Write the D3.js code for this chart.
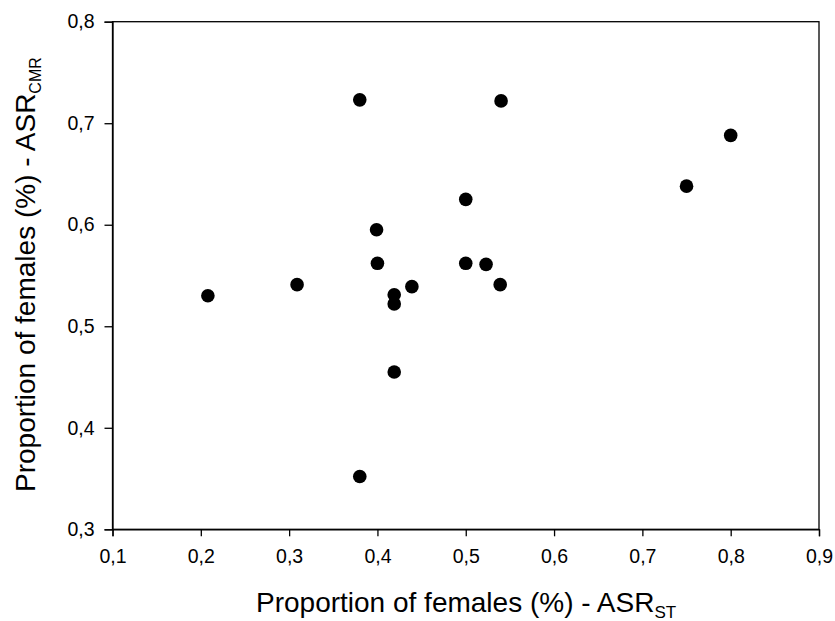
<!DOCTYPE html>
<html>
<head>
<meta charset="utf-8">
<script src="https://cdn.jsdelivr.net/npm/d3@7"></script>
<style>
  html, body { margin: 0; padding: 0; background: #fff; }
  svg { display: block; font-family: "Liberation Sans", Arial, sans-serif; }
</style>
</head>
<body>
<svg id="chart" width="835" height="621"></svg>
<script>
// Proportion of females estimated by two methods (ASR_ST vs ASR_CMR)
const asrST  = [0.208, 0.309, 0.38, 0.38, 0.399, 0.40, 0.419, 0.419, 0.419, 0.439, 0.50, 0.50, 0.523, 0.539, 0.54, 0.75, 0.80];
const asrCMR = [0.530, 0.541, 0.723, 0.352, 0.595, 0.562, 0.531, 0.522, 0.455, 0.539, 0.625, 0.562, 0.561, 0.541, 0.722, 0.638, 0.688];
const xTicks = [0.1, 0.2, 0.3, 0.4, 0.5, 0.6, 0.7, 0.8, 0.9];
const yTicks = [0.3, 0.4, 0.5, 0.6, 0.7, 0.8];

const svg = d3.select("#chart");
const plot = { left: 112.5, right: 819, top: 21.7, bottom: 529.3 };

const x = d3.scaleLinear().domain([0.1, 0.9]).range([plot.left, plot.right]);
const y = d3.scaleLinear().domain([0.3, 0.8]).range([plot.bottom, plot.top]);
const fmt = d => d3.format(".1f")(d).replace(".", ",");

// frame
svg.append("rect")
  .attr("x", plot.left).attr("y", plot.top)
  .attr("width", plot.right - plot.left).attr("height", plot.bottom - plot.top)
  .attr("fill", "none").attr("stroke", "#000").attr("stroke-width", 1.3);

const xAxis = svg.append("g")
  .attr("transform", `translate(0,${plot.bottom})`)
  .call(d3.axisBottom(x).tickValues(xTicks).tickFormat(fmt).tickSize(7).tickPadding(13));
const yAxis = svg.append("g")
  .attr("transform", `translate(${plot.left},0)`)
  .call(d3.axisLeft(y).tickValues(yTicks).tickFormat(fmt).tickSize(8).tickPadding(10));

[xAxis, yAxis].forEach(g => {
  g.select(".domain").attr("stroke", "#000").attr("stroke-width", 1.3);
  g.selectAll(".tick line").attr("stroke", "#000").attr("stroke-width", 1.3);
  g.selectAll(".tick text").attr("fill", "#000")
    .style("font-size", "19.5px").style("font-family", "'Liberation Sans', Arial, sans-serif");
});

// points
svg.append("g").selectAll("circle")
  .data(asrST.map((v, i) => [v, asrCMR[i]]))
  .join("circle")
  .attr("cx", d => x(d[0]))
  .attr("cy", d => y(d[1]))
  .attr("r", 6.8)
  .attr("fill", "#000");

// axis titles
const xt = svg.append("text")
  .attr("x", 256).attr("y", 611.5)
  .style("font-size", "28px").attr("fill", "#000");
xt.append("tspan").text("Proportion of females (%) - ASR");
xt.append("tspan").attr("dy", 6).style("font-size", "17px").text("ST");

const yt = svg.append("text")
  .attr("transform", "translate(35,492) rotate(-90)")
  .style("font-size", "28px").attr("fill", "#000");
yt.append("tspan").text("Proportion of females (%) - ASR");
yt.append("tspan").attr("dy", 6).style("font-size", "16px").text("CMR");
</script>
</body>
</html>
